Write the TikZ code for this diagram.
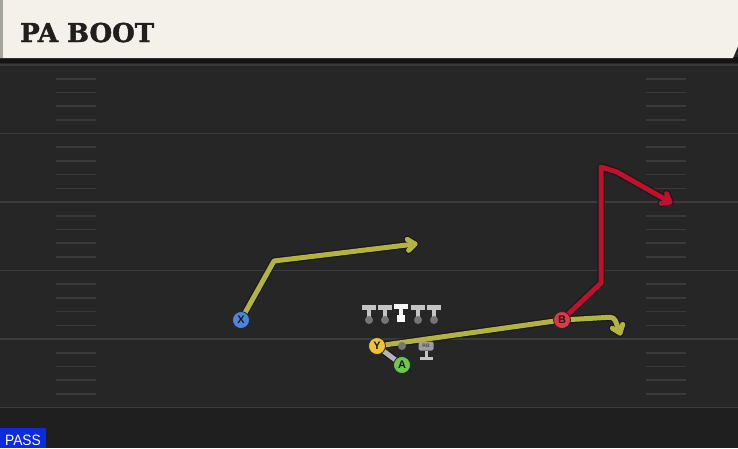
\documentclass[tikz,border=0pt]{standalone}
\usepackage{fontspec}
\usetikzlibrary{calc}
\newfontfamily\titlefont[FakeBold=1.6]{DejaVu Serif}
\newfontfamily\lblfont{Liberation Sans}
\definecolor{hdr}{HTML}{F4F1EA}
\definecolor{hdrstripe}{HTML}{A4A49E}
\definecolor{field}{HTML}{262626}
\definecolor{fieldline}{HTML}{3C3C3C}
\definecolor{hashc}{HTML}{3A3A3A}
\definecolor{routey}{HTML}{B3B440}
\definecolor{router}{HTML}{C0102E}
\definecolor{routeg}{HTML}{B4B4B4}
\definecolor{pblue}{HTML}{4A86DE}
\definecolor{pyellow}{HTML}{F2C230}
\definecolor{pgreen}{HTML}{6CC84A}
\definecolor{pred}{HTML}{E83548}
\definecolor{lineman}{HTML}{C4C4C4}
\definecolor{passblue}{HTML}{0A2BE0}
\tikzset{
  player/.style={circle, minimum size=17pt, inner sep=0pt, draw=black!85, line width=0.8pt,
    font=\lblfont\bfseries\fontsize{11}{11}\selectfont, text=black!90},
  outline/.style={draw=black!90, line width=7.5pt, line join=round, line cap=round},
  routeline/.style={line width=5pt, line join=round, line cap=round},
  yardline/.style={draw=fieldline, line width=1.6pt},
  hashmark/.style={draw=hashc, line width=1.6pt},
}
\begin{document}
\begin{tikzpicture}[x=1pt,y=-1pt]
\useasboundingbox (0,0) rectangle (738,448);
% field
\fill[field] (0,0) rectangle (738,448);
\fill[black!88] (0,408) rectangle (738,448);
\fill[black!92] (0,57) rectangle (738,63);
% yard lines
\foreach \i in {0,...,5}{
  \draw[yardline] (0,{65+68.5*\i}) -- (738,{65+68.5*\i});
}
% hash marks
\foreach \i in {0,...,4}{
  \foreach \j in {1,...,4}{
    \draw[hashmark] (56,{65+68.5*\i+13.7*\j}) -- (96,{65+68.5*\i+13.7*\j});
    \draw[hashmark] (646,{65+68.5*\i+13.7*\j}) -- (686,{65+68.5*\i+13.7*\j});
  }
}
% header
\fill[hdr] (0,0) -- (738,0) -- (738,46) -- (733,58) -- (0,58) -- cycle;
\fill[hdrstripe] (0,0) rectangle (3,58);
\node[anchor=base west, inner sep=0pt, text=black!88,
  font=\titlefont\bfseries\fontsize{26}{26}\selectfont] (title) at (20,42) {PA BOOT};
% pass label
\fill[passblue] (0,428) rectangle (46,448);
\node[anchor=base, inner sep=0pt, text=white, font=\lblfont\fontsize{15}{15}\selectfont,
  xscale=0.92] (pass) at (23,445) {PASS};

% waypoints
\coordinate (x1) at (274,261);
\coordinate (x2) at (415,244);
\coordinate (y1) at (614,317);
\coordinate (y2) at (620,333);
\coordinate (b1) at (601,283);
\coordinate (b2) at (601,167);
\coordinate (b3) at (617,172);
\coordinate (b4) at (670,202);

% player positions
\coordinate (Xp) at (241,320);
\coordinate (Yp) at (377,346);
\coordinate (Ap) at (402,365);
\coordinate (Bp) at (562,320);

% routes: outlines
\draw[outline] (Yp) -- (Ap);
\draw[outline] (Xp) -- (x1) -- (x2);
\draw[outline] ($(x2)!9pt!38:(x1)$) -- (x2) -- ($(x2)!9pt!-38:(x1)$);
\draw[outline, rounded corners=4pt] (Yp) -- (Bp) -- (y1) -- (y2);
\draw[outline] ($(y2)!9pt!38:(y1)$) -- (y2) -- ($(y2)!9pt!-38:(y1)$);
\draw[outline] (Bp) -- (b1) -- (b2) -- (b3) -- (b4);
\draw[outline] ($(b4)!9pt!38:(b3)$) -- (b4) -- ($(b4)!9pt!-38:(b3)$);
% routes: colour
\draw[routeline, draw=routeg] (Yp) -- (Ap);
\draw[routeline, draw=routey] (Xp) -- (x1) -- (x2);
\draw[routeline, draw=routey] ($(x2)!9pt!38:(x1)$) -- (x2) -- ($(x2)!9pt!-38:(x1)$);
\draw[routeline, draw=routey, rounded corners=4pt] (Yp) -- (Bp) -- (y1) -- (y2);
\draw[routeline, draw=routey] ($(y2)!9pt!38:(y1)$) -- (y2) -- ($(y2)!9pt!-38:(y1)$);
\draw[routeline, draw=router] (Bp) -- (b1) -- (b2) -- (b3) -- (b4);
\draw[routeline, draw=router] ($(b4)!9pt!38:(b3)$) -- (b4) -- ($(b4)!9pt!-38:(b3)$);

% offensive line
\foreach \x/\n in {369/lt,385/lg,418/rg,434/rt}{
  \fill[lineman] (\x-7,305) rectangle (\x+7,310);
  \fill[lineman] (\x-2.3,309.5) rectangle (\x+2.3,319);
  \node[circle, fill=black!40!lineman, minimum size=8pt, inner sep=0pt] (\n) at (\x,320) {};
}
\fill[white!85!lineman] (394,304) rectangle (408,309);
\fill[white!85!lineman] (398.7,308.5) rectangle (403.3,315);
\node[rectangle, fill=white, minimum width=8pt, minimum height=7.5pt, inner sep=0pt] (c) at (401,318.5) {};

% QB dot
\node[circle, fill=black!40!lineman, minimum size=8pt, inner sep=0pt] (qb) at (402,346) {};
% RB icon
\node[rectangle, rounded corners=2pt, fill=black!20!lineman, minimum width=15pt, minimum height=9pt,
  inner sep=0pt, font=\lblfont\bfseries\fontsize{5}{5}\selectfont, text=black!70] (rb) at (426,346) {RB};
\fill[lineman] (424.5,350.5) rectangle (427.5,357);
\fill[lineman] (419.5,356.5) rectangle (432.5,360);

% players
\node[player, fill=pblue] (X) at (Xp) {X};
\node[player, fill=pyellow] (Y) at (Yp) {Y};
\node[player, fill=pgreen] (A) at (Ap) {A};
\node[player, fill=pred] (B) at (Bp) {B};
\end{tikzpicture}
\end{document}
